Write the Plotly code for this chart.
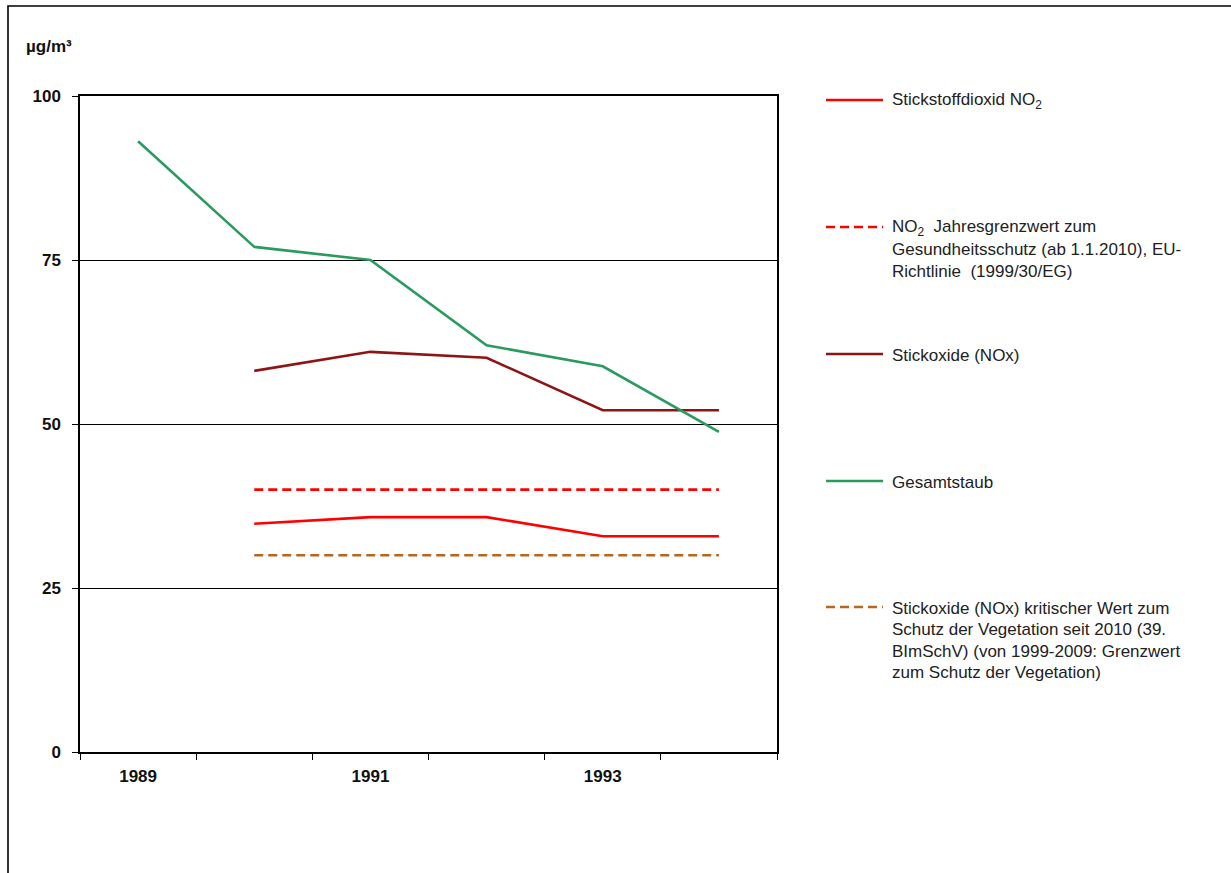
import plotly.graph_objects as go

years = [1989, 1990, 1991, 1992, 1993, 1994]
label_years = [1989, 1991, 1993]
no2 = [None, 34.8, 35.8, 35.8, 32.9, 32.9]
no2_limit = [None, 40, 40, 40, 40, 40]
nox = [None, 58.1, 61.0, 60.1, 52.1, 52.1]
staub = [93.1, 77.0, 75.0, 62.0, 58.8, 48.8]
nox_critical = [None, 30, 30, 30, 30, 30]

series_names = [
    "Stickstoffdioxid NO<sub>2</sub>",
    "NO<sub>2</sub> Jahresgrenzwert zum Gesundheitsschutz (ab 1.1.2010), EU-Richtlinie (1999/30/EG)",
    "Stickoxide (NOx)",
    "Gesamtstaub",
    "Stickoxide (NOx) kritischer Wert zum Schutz der Vegetation seit 2010 (39. BImSchV) (von 1999-2009: Grenzwert zum Schutz der Vegetation)",
]
legend_lines = [
    ["Stickstoffdioxid NO<sub>2</sub>"],
    ["NO<sub>2</sub>  Jahresgrenzwert zum", "Gesundheitsschutz (ab 1.1.2010), EU-", "Richtlinie  (1999/30/EG)"],
    ["Stickoxide (NOx)"],
    ["Gesamtstaub"],
    ["Stickoxide (NOx) kritischer Wert zum", "Schutz der Vegetation seit 2010 (39.",
     "BImSchV) (von 1999-2009: Grenzwert", "zum Schutz der Vegetation)"],
]

colors = ["#FF0000", "#FF0000", "#8E1515", "#2A9A5E", "#B8661E"]
dashes = ["solid", "9px,5px", "solid", "solid", "9px,5px"]
data = [no2, no2_limit, nox, staub, nox_critical]

W, H = 1231, 873
L, R, T, B = 80, 777, 96, 752

x_range = [years[0] - 0.5, years[-1] + 0.5]
boundaries = [y - 0.5 for y in years] + [years[-1] + 0.5]

fig = go.Figure()
order = [4, 0, 1, 2, 3]
for i in order:
    fig.add_trace(go.Scatter(
        x=years, y=data[i], mode="lines", name=series_names[i],
        line=dict(color=colors[i], width=2.6, dash=dashes[i]),
        showlegend=False, connectgaps=False,
    ))
# invisible carrier for the label axis
fig.add_trace(go.Scatter(x=label_years, y=[None] * len(label_years), xaxis="x2",
                         mode="lines", showlegend=False, hoverinfo="skip"))

def px_x(px):
    return (px - L) / (R - L)

def px_y(py):
    return (B - py) / (B - T)

shapes = []
annotations = []
shapes.append(dict(type="rect", xref="paper", yref="paper",
                   x0=px_x(8), x1=px_x(1240), y0=px_y(6), y1=px_y(885),
                   line=dict(color="#000000", width=1.6), layer="below"))

legend_y = [100, 227, 354, 481, 607]
line_gap = 21.5
for i, ly in enumerate(legend_y):
    shapes.append(dict(type="line", xref="paper", yref="paper",
                       x0=px_x(826), x1=px_x(883), y0=px_y(ly), y1=px_y(ly),
                       line=dict(color=colors[i], width=2.6, dash=dashes[i])))
    for j, txt in enumerate(legend_lines[i]):
        annotations.append(dict(
            xref="paper", yref="paper", x=px_x(890), y=px_y(ly + 1 + j * line_gap),
            xanchor="left", yanchor="middle", text=txt, showarrow=False,
            font=dict(family="Liberation Sans, Arial", size=17, color="#222222"),
        ))

annotations.append(dict(
    xref="paper", yref="paper", x=px_x(24), y=px_y(47), xanchor="left", yanchor="middle",
    text="<b>µg/m³</b>", showarrow=False,
    font=dict(family="Liberation Sans, Arial", size=17, color="#111111"),
))

tick_font = dict(family="Liberation Sans, Arial", size=17, color="#111111", weight="bold")

fig.update_layout(
    width=W, height=H,
    margin=dict(l=L, r=W - R, t=T, b=H - B, pad=0),
    paper_bgcolor="white", plot_bgcolor="white",
    shapes=shapes, annotations=annotations,
    font=dict(family="Liberation Sans, Arial", color="#111111"),
    xaxis=dict(
        range=x_range, tickvals=boundaries, showticklabels=False,
        ticks="outside", ticklen=6, tickwidth=1.3, tickcolor="#000000",
        showline=True, linecolor="#000000", linewidth=1.5, mirror=True,
        showgrid=False, zeroline=False,
    ),
    xaxis2=dict(
        overlaying="x", anchor="y", side="bottom", range=x_range,
        tickvals=label_years, ticktext=[str(v) for v in label_years],
        ticks="", showline=False, showgrid=False, zeroline=False,
        tickfont=tick_font, ticklabelstandoff=12,
    ),
    yaxis=dict(
        range=[0, 100], tickvals=[0, 25, 50, 75, 100],
        ticks="outside", ticklen=6, tickwidth=1.3, tickcolor="#000000",
        showline=True, linecolor="#000000", linewidth=1.5, mirror=True,
        showgrid=True, gridcolor="#000000", gridwidth=1.3, zeroline=False,
        tickfont=tick_font, ticklabelstandoff=8,
    ),
)

fig.write_html("out.html", config={"displayModeBar": False},
               post_script="document.body.style.margin='0px';")
